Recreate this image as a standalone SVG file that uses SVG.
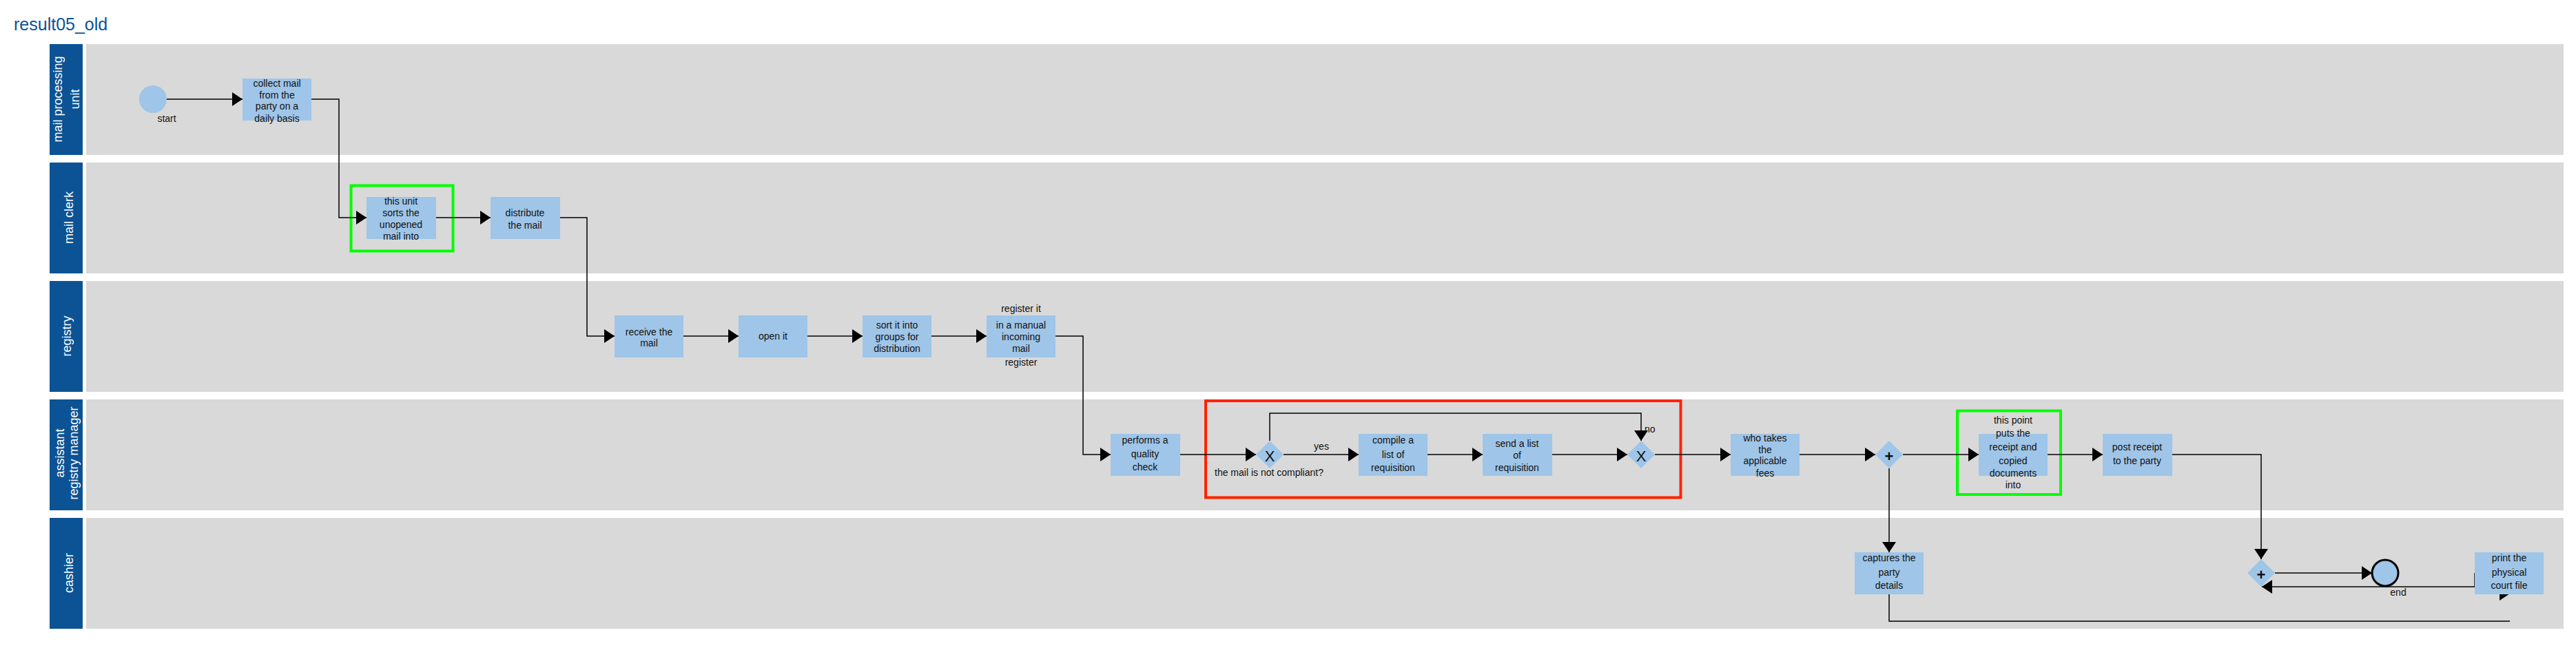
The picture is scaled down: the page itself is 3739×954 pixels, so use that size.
<svg xmlns="http://www.w3.org/2000/svg" width="3739" height="954" viewBox="0 0 3739 954">
<style>
.hdr{fill:#0b5394}
.lane{fill:#d9d9d9}
.task{fill:#9fc5e8}
.gw{fill:#9fc5e8}
.t{font-family:"Liberation Sans",Arial,sans-serif;font-size:14px;fill:#111;text-anchor:middle}
.ht{font-family:"Liberation Sans",Arial,sans-serif;font-size:18px;fill:#fff;text-anchor:middle}
.gt{font-family:"Liberation Sans",Arial,sans-serif;font-size:22px;fill:#111;text-anchor:middle}
.flow{fill:none;stroke:#000;stroke-width:1.5}
.hl-g{fill:none;stroke:#00ff00;stroke-width:4}
.hl-r{fill:none;stroke:#ff2200;stroke-width:4}
</style>
<defs>
<marker id="arr" markerUnits="userSpaceOnUse" markerWidth="15" markerHeight="20" refX="15" refY="10" orient="auto">
<path d="M0,0 L15,10 L0,20 Z" fill="#000"/>
</marker>
</defs>
<rect width="3739" height="954" fill="#fff"/>
<text x="20" y="44" font-family="'Liberation Sans',Arial,sans-serif" font-size="25" fill="#0b5394">result05_old</text>

<g id="lanes">
<g id="lane-mail-processing-unit">
<rect class="hdr" x="72" y="64" width="48" height="161"/>
<rect class="lane" x="125" y="64" width="3596" height="161"/>
<text class="ht" transform="translate(90,144) rotate(-90)">mail processing</text>
<text class="ht" transform="translate(115,144) rotate(-90)">unit</text>
</g>
<g id="lane-mail-clerk">
<rect class="hdr" x="72" y="236" width="48" height="161"/>
<rect class="lane" x="125" y="236" width="3596" height="161"/>
<text class="ht" transform="translate(106,316) rotate(-90)">mail clerk</text>
</g>
<g id="lane-registry">
<rect class="hdr" x="72" y="408" width="48" height="161"/>
<rect class="lane" x="125" y="408" width="3596" height="161"/>
<text class="ht" transform="translate(103,488) rotate(-90)">registry</text>
</g>
<g id="lane-assistant-registry-manager">
<rect class="hdr" x="72" y="580" width="48" height="161"/>
<rect class="lane" x="125" y="580" width="3596" height="161"/>
<text class="ht" transform="translate(93,658) rotate(-90)">assistant</text>
<text class="ht" transform="translate(113,658) rotate(-90)">registry manager</text>
</g>
<g id="lane-cashier">
<rect class="hdr" x="72" y="752" width="48" height="161"/>
<rect class="lane" x="125" y="752" width="3596" height="161"/>
<text class="ht" transform="translate(106,832) rotate(-90)">cashier</text>
</g>
</g>

<g id="highlights">
<rect class="hl-g" x="509.5" y="269.5" width="148" height="95"/>
<rect class="hl-r" x="1750" y="582" width="689.5" height="140.5"/>
<rect class="hl-g" x="2841" y="596.5" width="150" height="121.5"/>
</g>

<g id="connectors">
<path class="flow" d="M242,144 H352" marker-end="url(#arr)"/>
<path class="flow" d="M452,144 H492 V316 H532" marker-end="url(#arr)"/>
<path class="flow" d="M633,316 H712" marker-end="url(#arr)"/>
<path class="flow" d="M813,316 H852 V488 H892" marker-end="url(#arr)"/>
<path class="flow" d="M992,488 H1072" marker-end="url(#arr)"/>
<path class="flow" d="M1172,488 H1252" marker-end="url(#arr)"/>
<path class="flow" d="M1352,488 H1432" marker-end="url(#arr)"/>
<path class="flow" d="M1532,488 H1572 V660 H1612" marker-end="url(#arr)"/>
<path class="flow" d="M1713,660 H1823" marker-end="url(#arr)"/>
<path class="flow" d="M1863,660 H1972" marker-end="url(#arr)"/>
<path class="flow" d="M2072,660 H2152" marker-end="url(#arr)"/>
<path class="flow" d="M2253,660 H2362" marker-end="url(#arr)"/>
<path class="flow" d="M1843,640 V600 H2382 V640" marker-end="url(#arr)"/>
<path class="flow" d="M2402,660 H2512" marker-end="url(#arr)"/>
<path class="flow" d="M2612,660 H2722" marker-end="url(#arr)"/>
<path class="flow" d="M2762,660 H2872" marker-end="url(#arr)"/>
<path class="flow" d="M2742,680 V802" marker-end="url(#arr)"/>
<path class="flow" d="M2972,660 H3052" marker-end="url(#arr)"/>
<path class="flow" d="M3153,660 H3282 V812" marker-end="url(#arr)"/>
<path class="flow" d="M3302,832 H3443" marker-end="url(#arr)"/>
<path class="flow" d="M3592,832 V852 H3283" marker-end="url(#arr)"/>
<path class="flow" d="M2742,862 V902 H3643"/>
<polygon points="3628,852 3643,862 3628,872" fill="#000"/>
<text class="t" x="1918" y="653">yes</text>
<text class="t" x="2387" y="628" style="text-anchor:start">no</text>
</g>

<g id="start">
<circle cx="222" cy="144" r="20" fill="#9fc5e8"/>
<text class="t" x="242" y="177">start</text>
</g>

<g id="collect-mail">
<rect class="task" x="352" y="114" width="100" height="61"/>
<text class="t" x="402" y="125.5">collect mail</text>
<text class="t" x="402" y="142.5">from the</text>
<text class="t" x="402" y="159">party on a</text>
<text class="t" x="402" y="177">daily basis</text>
</g>

<g id="sorts-unopened">
<rect class="task" x="532" y="286" width="101" height="61"/>
<text class="t" x="582" y="297">this unit</text>
<text class="t" x="582" y="314">sorts the</text>
<text class="t" x="582" y="330.5">unopened</text>
<text class="t" x="582" y="348">mail into</text>
</g>

<g id="distribute">
<rect class="task" x="712" y="286" width="101" height="61"/>
<text class="t" x="762" y="314">distribute</text>
<text class="t" x="762" y="331.5">the mail</text>
</g>

<g id="receive">
<rect class="task" x="892" y="458" width="100" height="61"/>
<text class="t" x="942" y="486.5">receive the</text>
<text class="t" x="942" y="503">mail</text>
</g>

<g id="open-it">
<rect class="task" x="1072" y="458" width="100" height="61"/>
<text class="t" x="1122" y="492.5">open it</text>
</g>

<g id="sort-groups">
<rect class="task" x="1252" y="458" width="100" height="61"/>
<text class="t" x="1302" y="477">sort it into</text>
<text class="t" x="1302" y="493.5">groups for</text>
<text class="t" x="1302" y="511">distribution</text>
</g>

<g id="register-it">
<rect class="task" x="1432" y="458" width="100" height="61"/>
<text class="t" x="1482" y="453">register it</text>
<text class="t" x="1482" y="477">in a manual</text>
<text class="t" x="1482" y="493.5">incoming</text>
<text class="t" x="1482" y="511">mail</text>
<text class="t" x="1482" y="531">register</text>
</g>

<g id="quality-check">
<rect class="task" x="1612" y="630" width="101" height="61"/>
<text class="t" x="1662" y="644">performs a</text>
<text class="t" x="1662" y="664">quality</text>
<text class="t" x="1662" y="683">check</text>
</g>

<g id="gateway-compliant">
<polygon class="gw" points="1843,640 1863,660 1843,680 1823,660"/>
<text class="gt" x="1843" y="670">X</text>
<text class="t" x="1842" y="691">the mail is not compliant?</text>
</g>

<g id="compile-list">
<rect class="task" x="1972" y="630" width="100" height="61"/>
<text class="t" x="2022" y="644">compile a</text>
<text class="t" x="2022" y="665">list of</text>
<text class="t" x="2022" y="684">requisition</text>
</g>

<g id="send-list">
<rect class="task" x="2152" y="630" width="101" height="61"/>
<text class="t" x="2202" y="649">send a list</text>
<text class="t" x="2202" y="666">of</text>
<text class="t" x="2202" y="684">requisition</text>
</g>

<g id="gateway-merge">
<polygon class="gw" points="2382,640 2402,660 2382,680 2362,660"/>
<text class="gt" x="2382" y="670">X</text>
</g>

<g id="applicable-fees">
<rect class="task" x="2512" y="630" width="100" height="61"/>
<text class="t" x="2562" y="641">who takes</text>
<text class="t" x="2562" y="658">the</text>
<text class="t" x="2562" y="674">applicable</text>
<text class="t" x="2562" y="691.5">fees</text>
</g>

<g id="parallel-split">
<polygon class="gw" points="2742,640 2762,660 2742,680 2722,660"/>
<text class="gt" x="2742" y="670" font-weight="bold">+</text>
</g>

<g id="puts-receipt">
<rect class="task" x="2872" y="630" width="100" height="61"/>
<text class="t" x="2922" y="615">this point</text>
<text class="t" x="2922" y="634">puts the</text>
<text class="t" x="2922" y="654">receipt and</text>
<text class="t" x="2922" y="674">copied</text>
<text class="t" x="2922" y="692">documents</text>
<text class="t" x="2922" y="709">into</text>
</g>

<g id="post-receipt">
<rect class="task" x="3052" y="630" width="101" height="61"/>
<text class="t" x="3102" y="654">post receipt</text>
<text class="t" x="3102" y="674">to the party</text>
</g>

<g id="captures-details">
<rect class="task" x="2692" y="802" width="100" height="61"/>
<text class="t" x="2742" y="815">captures the</text>
<text class="t" x="2742" y="836">party</text>
<text class="t" x="2742" y="855">details</text>
</g>

<g id="parallel-join">
<polygon class="gw" points="3282,812 3302,832 3282,852 3262,832"/>
<text class="gt" x="3282" y="842" font-weight="bold">+</text>
</g>

<g id="end">
<circle cx="3462" cy="832" r="19" fill="#9fc5e8" stroke="#000" stroke-width="3"/>
<text class="t" x="3481" y="865">end</text>
</g>

<g id="print-court-file">
<rect class="task" x="3592" y="802" width="100" height="61"/>
<text class="t" x="3642" y="815">print the</text>
<text class="t" x="3642" y="836">physical</text>
<text class="t" x="3642" y="855">court file</text>
</g>
</svg>
